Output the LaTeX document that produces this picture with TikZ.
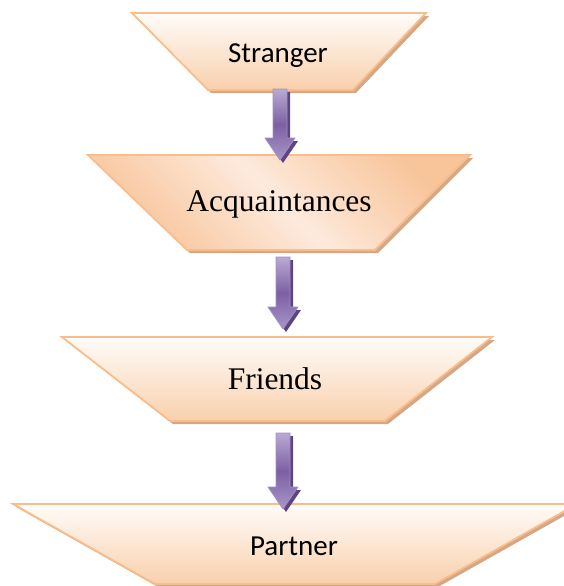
\documentclass[tikz,border=0pt]{standalone}
\usepackage{fontspec}
\newfontfamily\calibrifont{Carlito}
\newfontfamily\timesfont{Liberation Serif}
\usetikzlibrary{calc}

\definecolor{peachedge}{HTML}{F9BD8B}
\definecolor{peachshadow}{HTML}{D4A786}
\definecolor{peachlight}{HTML}{FFFCF9}
\definecolor{peachdark}{HTML}{F9D0AC}
\definecolor{peachdeep}{HTML}{F8C59B}
\definecolor{peachpale}{HTML}{FDEADC}
\definecolor{arrowlight}{HTML}{B9AAD3}
\definecolor{arrowmid}{HTML}{7D60A3}
\definecolor{arrowlow}{HTML}{A796C8}
\definecolor{arrowedge}{HTML}{A290C4}
\definecolor{arrowshadowcol}{HTML}{5C4680}

\tikzset{
  trapshadow/.style={fill=peachshadow},
  trapbody/.style={draw=peachedge, line width=1.8pt, line join=miter},
  trapplain/.style={trapbody, top color=peachlight, bottom color=peachdark},
  lbl/.style={inner sep=0pt, anchor=base},
  sanslbl/.style={lbl, font=\calibrifont\fontsize{29}{34}\selectfont},
  seriflbl/.style={lbl, font=\timesfont\fontsize{31.5}{36}\selectfont},
  arrowshade/.style={fill=arrowshadowcol},
  arrowbody/.style={draw=arrowedge, line width=0.8pt, line join=miter,
    top color=arrowlight, bottom color=arrowlow, middle color=arrowmid},
}

% block arrow from #1 (top of shaft) down to #2 (tip), with a drop shadow
\newcommand\flowarrow[2]{%
  \foreach \dx/\dy/\sty in {3pt/-3pt/arrowshade, 0pt/0pt/arrowbody}{
    \path[\sty] let \p1=(#1), \p2=(#2) in
      (\x1-7pt+\dx,\y1+\dy) -- (\x1+7pt+\dx,\y1+\dy)
      -- (\x1+7pt+\dx,\y2+22pt+\dy) -- (\x1+15pt+\dx,\y2+22pt+\dy)
      -- (\x1+\dx,\y2+\dy)
      -- (\x1-15pt+\dx,\y2+22pt+\dy) -- (\x1-7pt+\dx,\y2+22pt+\dy) -- cycle;
  }}

\begin{document}
\begin{tikzpicture}[x=1pt,y=-1pt]
\useasboundingbox (0,0) rectangle (564,586);

% Stranger
\fill[trapshadow, shift={(3,3)}] (132,13) -- (426,13) -- (353,90) -- (208,90) -- cycle;
\shadedraw[trapplain] (132,13) -- (426,13) -- (353,90) -- (208,90) -- cycle;
\node[sanslbl] (stranger) at (278,63) {Stranger};

% Acquaintances: diagonal shading, deeper at two opposite corners
\fill[trapshadow, shift={(3,3)}] (88,155) -- (470,155) -- (375,250) -- (187,250) -- cycle;
\shadedraw[trapbody, left color=peachdeep, right color=peachdeep, middle color=peachpale, shading angle=-45]
  (88,155) -- (470,155) -- (375,250) -- (187,250) -- cycle;
\node[seriflbl] (acq) at (279,211) {Acquaintances};

% Friends
\fill[trapshadow, shift={(3,3)}] (62,337) -- (492,337) -- (385,421) -- (170,421) -- cycle;
\shadedraw[trapplain] (62,337) -- (492,337) -- (385,421) -- (170,421) -- cycle;
\node[seriflbl] (friends) at (275,389) {Friends};

% Partner
\fill[trapshadow, shift={(3,3)}] (13,504) -- (577,504) -- (435,584) -- (155,584) -- cycle;
\shadedraw[trapplain] (13,504) -- (577,504) -- (435,584) -- (155,584) -- cycle;
\node[sanslbl] (partner) at (294,555) {Partner};

% arrow ends
\coordinate (strangerout) at (280,89);
\coordinate (acqin) at (280,160);
\coordinate (acqout) at (283,257);
\coordinate (friendsin) at (283,329);
\coordinate (friendsout) at (283,433);
\coordinate (partnerin) at (283,509);

\flowarrow{strangerout}{acqin}
\flowarrow{acqout}{friendsin}
\flowarrow{friendsout}{partnerin}
\end{tikzpicture}
\end{document}
